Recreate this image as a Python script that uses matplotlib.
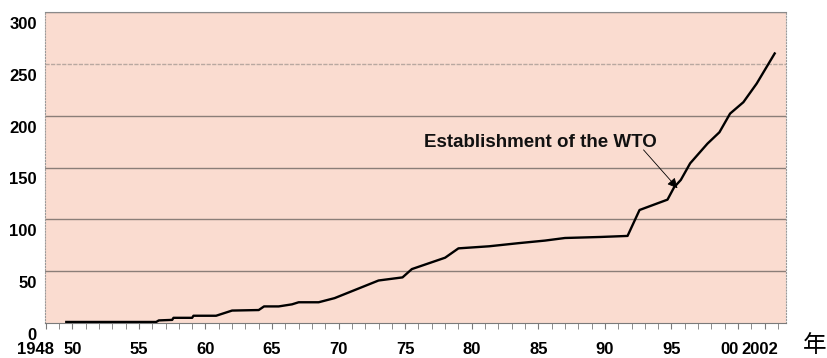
import matplotlib.pyplot as plt
import matplotlib.transforms as mtransforms

# ---- data ----
years = [1949.55, 1956.3, 1956.5, 1957.5, 1957.6, 1959.0, 1959.1, 1960.8, 1962.0,
         1964.0, 1964.4, 1965.5, 1966.5, 1967.0, 1968.5, 1969.7, 1973.0, 1974.8,
         1975.5, 1978.0, 1979.0, 1981.3, 1983.5, 1985.5, 1987.0, 1989.7, 1991.7,
         1992.6, 1994.7, 1995.2, 1995.7, 1996.4, 1997.7, 1998.6, 1999.4, 2000.4,
         2001.4, 2002.75]
counts = [1, 1, 2.5, 3, 5, 5, 7, 7, 12,
          12.5, 16, 16, 18, 20, 20, 24, 41, 44,
          52, 63, 72, 74, 77, 79.5, 82, 83, 84,
          109, 119, 131, 138, 154, 173, 184, 202, 213,
          231, 260]

tick_years = [1948, 1950, 1955, 1960, 1965, 1970, 1975, 1980, 1985, 1990, 1995, 2000, 2002]
tick_labels = ["1948", "50", "55", "60", "65", "70", "75", "80", "85", "90", "95", "00", "2002"]
y_ticks = [0, 50, 100, 150, 200, 250, 300]

annot_text = "Establishment of the WTO"
annot_point = (1995.45, 130)
unit_label = "年"

# ---- plot ----
fig = plt.figure(figsize=(8.28, 3.58), dpi=100)
ax = fig.add_axes([45 / 828, 35 / 358, (786 - 45) / 828, (323 - 12) / 358])
ax.set_facecolor("#fadcd0")

ax.plot(years, counts, color="black", linewidth=1.7, zorder=3)

ax.set_xlim(1947.95, 2003.6)
ax.set_ylim(0, 300)

# gridlines
for v in y_ticks[1:]:
    if v == 250:
        ax.axhline(v, color="#b8a8a0", linewidth=1, linestyle=(0, (3, 1)), zorder=1)
    else:
        ax.axhline(v, color="#8a7e78", linewidth=1, zorder=1)

for side in ["left", "right"]:
    ax.spines[side].set_color("#9a9a9a")
    ax.spines[side].set_linestyle(":")
ax.spines["top"].set_color("#8a8a8a")
ax.spines["bottom"].set_color("#7a7a7a")

# y labels, sit a bit below their gridlines like the original
ax.set_yticks(y_ticks)
ax.set_yticklabels([str(v) for v in y_ticks], fontsize=12, fontweight="bold",
                   family="Liberation Sans")
ax.tick_params(axis="y", length=0, pad=6)
shift_down = mtransforms.ScaledTranslation(0, -0.11, fig.dpi_scale_trans)
for lab in ax.get_yticklabels():
    lab.set_transform(lab.get_transform() + shift_down)

# x ticks every year, labels at the usual ones
ax.set_xticks(range(1948, 2004), minor=True)
ax.set_xticks(tick_years)
ax.set_xticklabels(tick_labels, fontsize=12, fontweight="bold", family="Liberation Sans")
ax.tick_params(axis="x", which="both", direction="out", length=4, color="#7a7a7a")
ax.tick_params(axis="x", which="major", pad=9.5)
x_shift = {"1948": -0.10, "00": -0.09, "2002": -0.05}
for lab in ax.get_xticklabels():
    dx = x_shift.get(lab.get_text(), 0)
    if dx:
        lab.set_transform(lab.get_transform() +
                          mtransforms.ScaledTranslation(dx, 0, fig.dpi_scale_trans))

# annotation
ax.text(1976.4, 174, annot_text, fontsize=13.5, fontweight="bold",
        family="Liberation Sans", va="center", ha="left", color="#111111")
ax.annotate("", xy=annot_point, xytext=(1992.9, 167),
            arrowprops=dict(arrowstyle="-|>", color="black", lw=0.6,
                            mutation_scale=15, shrinkA=0, shrinkB=0))

fig.text(815 / 828, 1 - 346 / 358, unit_label, fontsize=17, ha="center", va="center",
         family=["Noto Sans CJK SC", "DejaVu Sans"])

fig.savefig("out.png", dpi=100)
